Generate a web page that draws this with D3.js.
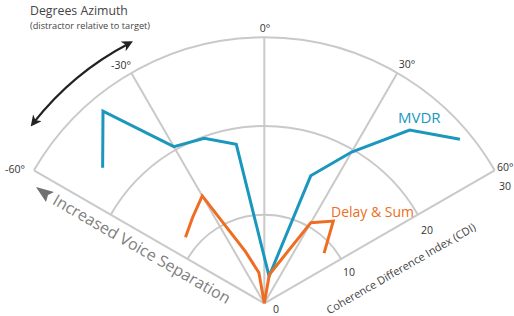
<!DOCTYPE html>
<html>
<head>
<meta charset="utf-8">
<script src="https://cdn.jsdelivr.net/npm/d3@7"></script>
<style>
  body { margin: 0; background: #fff; }
  svg { display: block; font-family: "Open Sans", sans-serif; }
</style>
</head>
<body>
<div id="chart"></div>
<script>
// azimuth (deg) and CDI values
const mvdrAngles = [-50, -40, -30, -20, -10, 10, 20, 30, 40, 50];
const mvdrCdi = [23.8, 28.3, 20.4, 19.8, 18.2, 3.1, 15.3, 19.7, 25.5, 28.8];

const dsAngles = [-50, -40, -30, -20, -10, 0, 10, 30, 40, 50];
const dsCdi = [11.6, 12.6, 14.0, 6.2, 3.5, 0, 3.3, 10.5, 12.1, 8.8];

const angleTicks = [-60, -30, 0, 30, 60];
const angleLabels = ["-60°", "-30°", "0°", "30°", "60°"];
const cdiTicks = [0, 10, 20, 30];

const W = 514, H = 316;
const cx = 264.3, cy = 303.3;

const svg = d3.select("#chart").append("svg").attr("width", W).attr("height", H);

const r = d3.scaleLinear().domain([0, 30]).range([0, 266]);
const rad = d => d * Math.PI / 180;

const g = svg.append("g").attr("transform", `translate(${cx},${cy})`);
const gridColor = "#c9c9c9";

// rings
cdiTicks.filter(d => d > 0).forEach(t => {
  const p = d3.path();
  p.arc(0, 0, r(t), rad(-150), rad(-30));
  g.append("path").attr("d", p.toString())
    .attr("fill", "none").attr("stroke", gridColor).attr("stroke-width", 2);
});

// spokes
g.selectAll("line.spoke").data(angleTicks).enter().append("line")
  .attr("class", "spoke")
  .attr("x1", 0).attr("y1", 0)
  .attr("x2", d => r(30) * Math.sin(rad(d)))
  .attr("y2", d => -r(30) * Math.cos(rad(d)))
  .attr("stroke", gridColor).attr("stroke-width", 2);

// series
const line = d3.lineRadial()
  .angle(d => rad(d[0]))
  .radius(d => r(d[1]));

g.append("path")
  .attr("d", line(d3.zip(mvdrAngles, mvdrCdi)))
  .attr("fill", "none").attr("stroke", "#1b97bd").attr("stroke-width", 3)
  .attr("stroke-linejoin", "miter");

g.append("path")
  .attr("d", line(d3.zip(dsAngles, dsCdi)))
  .attr("fill", "none").attr("stroke", "#ee6d22").attr("stroke-width", 3)
  .attr("stroke-linejoin", "miter");

// angle labels
const angPos = {
  "-60": [25, 173, "end"],
  "-30": [121, 69, "middle"],
  "0": [265, 32, "middle"],
  "30": [407, 68, "middle"],
  "60": [497, 171, "start"]
};
angleTicks.forEach((a, i) => {
  const p = angPos[a];
  svg.append("text").attr("x", p[0]).attr("y", p[1])
    .attr("text-anchor", p[2])
    .attr("font-size", 10.5).attr("fill", "#333")
    .text(angleLabels[i]);
});

// radial tick labels
const cdiPos = [[276, 313], [349, 276], [427, 234], [505, 190]];
cdiTicks.forEach((t, i) => {
  svg.append("text").attr("x", cdiPos[i][0]).attr("y", cdiPos[i][1])
    .attr("text-anchor", "middle")
    .attr("font-size", 10.5).attr("fill", "#333")
    .text(t);
});

// axis titles
svg.append("text")
  .attr("transform", "translate(403,272) rotate(-30)")
  .attr("text-anchor", "middle")
  .attr("font-size", 11).attr("fill", "#444")
  .text("Coherence Difference Index (CDI)");

svg.append("text")
  .attr("transform", "translate(139,254) rotate(30)")
  .attr("text-anchor", "middle")
  .attr("font-size", 16).attr("fill", "#808080")
  .text("Increased Voice Separation");

// gray arrow head
svg.append("path")
  .attr("d", "M36,187 L54,192 L48,195 L46,202 Z")
  .attr("fill", "#707070");

svg.append("text").attr("x", 30).attr("y", 15)
  .attr("font-size", 12.3).attr("fill", "#444")
  .text("Degrees Azimuth");
svg.append("text").attr("x", 30).attr("y", 29)
  .attr("font-size", 9.2).attr("fill", "#444")
  .text("(distractor relative to target)");

// double arrow arc
const defs = svg.append("defs");
defs.append("marker")
  .attr("id", "ah").attr("viewBox", "0 0 10 10")
  .attr("refX", 6).attr("refY", 5)
  .attr("markerWidth", 5).attr("markerHeight", 5)
  .attr("orient", "auto-start-reverse")
  .append("path").attr("d", "M0,0 L10,5 L0,10 L3,5 Z").attr("fill", "#222");

const ap = d3.path();
ap.arc(0, 0, 293, rad(-52 - 90), rad(-27.5 - 90));
g.append("path").attr("d", ap.toString())
  .attr("fill", "none").attr("stroke", "#222").attr("stroke-width", 2.2)
  .attr("marker-start", "url(#ah)").attr("marker-end", "url(#ah)");

// series labels
svg.append("text").attr("x", 398).attr("y", 123)
  .attr("font-size", 15).attr("fill", "#1b97bd").text("MVDR");
svg.append("text").attr("x", 331).attr("y", 217)
  .attr("font-size", 14).attr("fill", "#ee6d22").text("Delay & Sum");
</script>
</body>
</html>
